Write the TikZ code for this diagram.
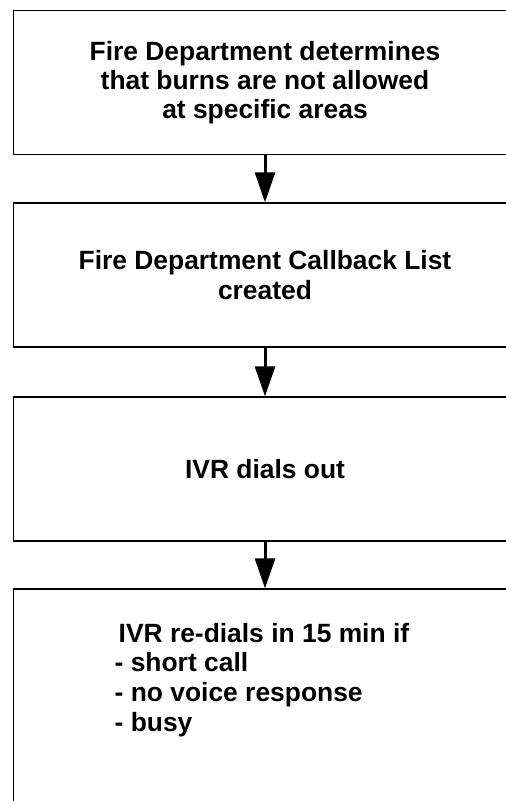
\documentclass[tikz,border=0pt]{standalone}
\usepackage{fontspec}
\setmainfont{Liberation Sans}
\usepackage{tikz}
\usetikzlibrary{arrows.meta}
\usetikzlibrary{shapes}

\begin{document}
\begin{tikzpicture}[x=1pt,y=-1pt,
  stagebox/.style={draw=black,line width=1.3pt,rectangle,minimum width=503pt,minimum height=144pt,inner sep=0pt,
    font=\bfseries\fontsize{26.4}{29.2}\selectfont,align=center},
  stagetext/.style={inner sep=0pt,font=\bfseries\fontsize{26.4}{29.6}\selectfont,align=left},
  flowarrow/.style={line width=3pt,-{Triangle[width=20pt,length=30pt]}}]
\useasboundingbox(0,0) rectangle (506,801);
\clip(0,0) rectangle (506,801);
\node[stagebox](decide) at (265,82.5){Fire Department determines\\that burns are not allowed\\at specific areas};
\node[stagebox](callback) at (265,275){Fire Department Callback List\\created};
\node[stagebox](dialout) at (265,469){IVR dials out};
\node[stagebox,minimum height=260pt](redial) at (265,719){};
\node[stagetext,anchor=north west](redialtext) at (114.5,623){\hspace*{4pt}IVR re-dials in 15 min if\\- short call\\- no voice response\\- busy};
\draw[flowarrow](decide.south)--(callback.north);
\draw[flowarrow](callback.south)--(dialout.north);
\draw[flowarrow](dialout.south)--(redial.north);
\end{tikzpicture}
\end{document}
